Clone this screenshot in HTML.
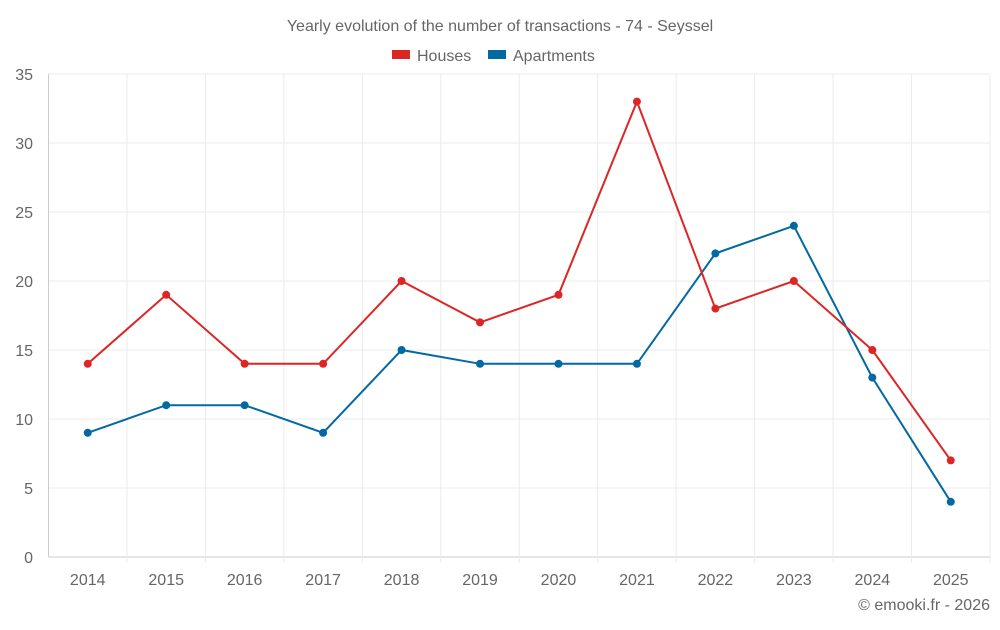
<!DOCTYPE html>
<html><head><meta charset="utf-8"><style>
body{margin:0;background:#fff;font-family:"Liberation Sans",sans-serif}
svg text{font-family:"Liberation Sans",sans-serif;fill:#666}
</style></head><body>
<svg id="c" width="1000" height="625">
<text x="500" y="31" text-anchor="middle" font-size="16">Yearly evolution of the number of transactions - 74 - Seyssel</text>
<g><rect x="392" y="50" width="18" height="9" fill="#dc2626"/><text x="417" y="61" font-size="16">Houses</text></g>
<g><rect x="488" y="50" width="18" height="9" fill="#0369a1"/><text x="513" y="61" font-size="16">Apartments</text></g>
<g id="grid"></g><g id="marks"></g>
<text x="990" y="610" text-anchor="end" font-size="16">© emooki.fr - 2026</text>
</svg>
<script>
const years=["2014","2015","2016","2017","2018","2019","2020","2021","2022","2023","2024","2025"];
const houses=[14,19,14,14,20,17,19,33,18,20,15,7];
const apartments=[9,11,11,9,15,14,14,14,22,24,13,4];
const yTicks=[0,5,10,15,20,25,30,35];
const NS="http://www.w3.org/2000/svg";
const L=48.5,R=990,T=74,B=557,yMax=35;
const step=(R-L)/years.length;
const x=i=>L+step*(i+0.5);
const y=v=>B-(v/yMax)*(B-T);
const grid=document.getElementById('grid'),marks=document.getElementById('marks');
function mk(tag,a,p){const e=document.createElementNS(NS,tag);for(const k in a)e.setAttribute(k,a[k]);p.appendChild(e);return e;}
yTicks.forEach(t=>{
 const l=mk('line',{x1:L,x2:R,y1:y(t),y2:y(t),stroke:t===0?'#ccc':'#ebebeb'},grid);
 
 
 const tx=mk('text',{x:33,y:y(t)+6,'text-anchor':'end','font-size':16},grid);tx.textContent=t;
 
 
});
for(let i=0;i<=years.length;i++){
 const l=mk('line',{x1:L+step*i,x2:L+step*i,y1:T,y2:B+(i===0?0:6),stroke:i===0?'#ccc':'#ebebeb'},grid);
 
 
}
years.forEach((yr,i)=>{
 const tx=mk('text',{x:x(i),y:585,'text-anchor':'middle','font-size':16},grid);tx.textContent=yr;
 
 
});
function series(vals,col,name){
 const p=mk('polyline',{points:vals.map((v,i)=>x(i)+','+y(v)).join(' '),fill:'none',stroke:col,'stroke-width':2},marks);
 
 
 vals.forEach((v,i)=>{
  const c=mk('circle',{cx:x(i),cy:y(v),r:4,fill:col},marks);
  
  
 });
}
series(apartments,'#0369a1','apartments');
series(houses,'#dc2626','houses');
</script>
</body></html>
